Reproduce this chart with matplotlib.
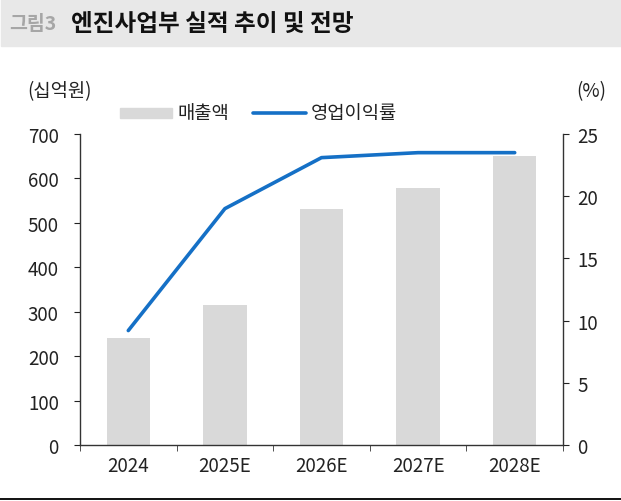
import matplotlib
matplotlib.use("Agg")
import matplotlib.pyplot as plt
from matplotlib.patches import Rectangle
from matplotlib.lines import Line2D

plt.rcParams['font.family'] = ['Noto Sans CJK KR', 'DejaVu Sans']

categories = ['2024', '2025E', '2026E', '2027E', '2028E']
sales = [240, 316, 531, 579, 651]
margin = [9.2, 19.0, 23.1, 23.5, 23.5]
left_ticks = [0, 100, 200, 300, 400, 500, 600, 700]
right_ticks = [0, 5, 10, 15, 20, 25]

fig = plt.figure(figsize=(6.21, 5.02), dpi=100)
ax = fig.add_axes([80/621, 1-446/502, (563-80)/621, (446-135)/502])
ax2 = ax.twinx()

x = list(range(len(categories)))
ax.bar(x, sales, width=0.45, color='#d9d9d9', zorder=1)
ax2.plot(x, margin, color='#1570c6', lw=2.6, solid_capstyle='round', zorder=3)

ax.set_xlim(-0.5, 4.5)
ax.set_ylim(0, 700)
ax2.set_ylim(0, 25)
ax.set_yticks(left_ticks)
ax2.set_yticks(right_ticks)
ax.set_xticks(x)
ax.set_xticklabels(categories)
ax.set_xticks([i - 0.5 for i in range(len(categories) + 1)], minor=True)
ax.tick_params(axis='x', which='major', length=0, pad=7, labelsize=13.5, colors='#222222')
ax.tick_params(axis='x', which='minor', length=4.3, direction='out', color='#333333')
ax.tick_params(axis='y', length=4.3, direction='out', labelsize=13.5, pad=11, colors='#222222')
ax2.tick_params(axis='y', length=4.3, direction='out', labelsize=13.5, pad=6, colors='#222222')
for a in (ax, ax2):
    a.spines['top'].set_visible(False)
    for s in ('left', 'right', 'bottom'):
        a.spines[s].set_color('#333333')
        a.spines[s].set_linewidth(1.0)
ax.spines['right'].set_visible(False)
ax2.spines['bottom'].set_visible(False)
ax2.spines['left'].set_visible(False)
ax.set_zorder(ax2.get_zorder() - 1)
ax.patch.set_visible(False)

# title band
fig.patches.append(Rectangle((1/621, 1-46.5/502), 620/621, 46.5/502, transform=fig.transFigure,
                             color='#e8e8e8', zorder=0))
fig.text(9/621, 1-24/502, '그림3', fontsize=14, color='#a6a6a6', fontweight='bold', va='center')
fig.text(71/621, 1-24/502, '엔진사업부 실적 추이 및 전망', fontsize=17, color='#111111',
         fontweight='bold', va='center')

# units
fig.text(27/621, 1-92/502, '(십억원)', fontsize=13.5, color='#222222', va='center')
fig.text(606/621, 1-92/502, '(%)', fontsize=13.5, color='#222222', va='center', ha='right')

# legend
fig.patches.append(Rectangle((120/621, 1-119/502), 52/621, 10/502, transform=fig.transFigure,
                             color='#d9d9d9'))
fig.text(177/621, 1-114/502, '매출액', fontsize=13.5, color='#222222', va='center')
fig.lines.append(Line2D([253/621, 306/621], [1-114/502, 1-114/502], transform=fig.transFigure,
                        color='#1570c6', lw=2.6, solid_capstyle='round'))
fig.text(311/621, 1-114/502, '영업이익률', fontsize=13.5, color='#222222', va='center')

# bottom rule
fig.lines.append(Line2D([0, 1], [1-499.5/502, 1-499.5/502], transform=fig.transFigure,
                        color='#111111', lw=1.4))

fig.savefig('out.png', dpi=100)
